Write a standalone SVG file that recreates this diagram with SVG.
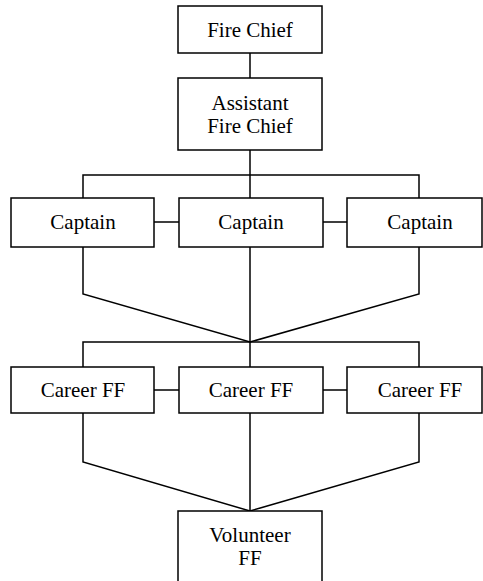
<svg xmlns="http://www.w3.org/2000/svg" width="483" height="581" viewBox="0 0 483 581">
<style>
.box{fill:#fff;stroke:#000;stroke-width:1.5}
.ln{fill:none;stroke:#000;stroke-width:1.5}
.t{font-family:'Liberation Serif','DejaVu Serif',serif;font-size:21px;fill:#000;text-anchor:middle}
</style>
<rect width="483" height="581" fill="#fff"/>
<g id="connectors" class="ln">
<path d="M250,53V78"/>
<path d="M250,150V175"/>
<path d="M83,198V175H419V198"/>
<path d="M250,175V198"/>
<path d="M154,222H179M323,222H347"/>
<path d="M83,247V294L250,342L419,294V247"/>
<path d="M250,247V342"/>
<path d="M83,367V342H419V367"/>
<path d="M250,342V367"/>
<path d="M154,390H179M323,390H347"/>
<path d="M83,413V462L250,511L419,462V413"/>
<path d="M250,413V511"/>
</g>
<g id="fire-chief"><rect class="box" x="178" y="6" width="144" height="47"/><text class="t" x="250" y="37">Fire Chief</text></g>
<g id="assistant-fire-chief"><rect class="box" x="178" y="78" width="144" height="72"/><text class="t" x="250" y="110">Assistant</text><text class="t" x="250" y="133">Fire Chief</text></g>
<g id="captain-1"><rect class="box" x="11" y="198" width="143" height="49"/><text class="t" x="83" y="229">Captain</text></g>
<g id="captain-2"><rect class="box" x="179" y="198" width="144" height="49"/><text class="t" x="251" y="229">Captain</text></g>
<g id="captain-3"><rect class="box" x="347" y="198" width="135" height="49"/><text class="t" x="420" y="229">Captain</text></g>
<g id="career-1"><rect class="box" x="11" y="367" width="143" height="46"/><text class="t" x="83" y="397">Career FF</text></g>
<g id="career-2"><rect class="box" x="179" y="367" width="144" height="46"/><text class="t" x="251" y="397">Career FF</text></g>
<g id="career-3"><rect class="box" x="347" y="367" width="135" height="46"/><text class="t" x="420" y="397">Career FF</text></g>
<g id="volunteer"><rect class="box" x="178" y="511" width="144" height="80"/><text class="t" x="250" y="542">Volunteer</text><text class="t" x="250" y="565">FF</text></g>
</svg>
